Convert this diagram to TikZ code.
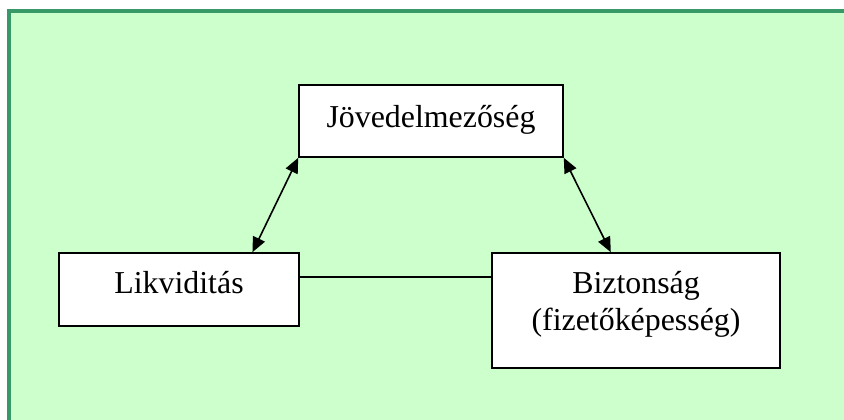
\documentclass[tikz,border=0pt]{standalone}
\usepackage{fontspec}
\setmainfont{Liberation Serif}
\usetikzlibrary{arrows.meta,calc}
\definecolor{bgfill}{RGB}{204,255,204}
\definecolor{frame}{RGB}{56,152,104}
\tikzset{
  box/.style={draw=black, line width=1.6bp, fill=white, inner sep=0pt},
  lbl/.style={anchor=base, inner sep=0pt, font=\fontsize{32}{37}\selectfont},
  conn/.style={line width=1.6bp, black},
  dbl/.style={conn, {Triangle[length=15bp,width=13bp]}-{Triangle[length=15bp,width=13bp]}, shorten <=0pt, shorten >=0pt}
}
\begin{document}
\begin{tikzpicture}[x=1bp,y=-1bp]
\useasboundingbox (0,0) rectangle (844,419);
\clip (0,0) rectangle (844,419);
\fill[white] (0,0) rectangle (844,419);
\draw[fill=bgfill, draw=frame, line width=4bp] (9,11) rectangle (860,440);
% boxes
\node[box, minimum width=264bp, minimum height=72bp] (top) at (431,121) {};
\node[box, minimum width=240bp, minimum height=73bp] (left) at (179,289.5) {};
\node[box, minimum width=288bp, minimum height=115bp] (right) at (636,310.5) {};
% labels
\node[lbl] (ttop) at (431,127) {Jövedelmezőség};
\node[lbl] (tleft) at (179,293) {Likviditás};
\node[lbl] (tright1) at (636,293) {Biztonság};
\node[lbl] (tright2) at (636,330) {(fizetőképesség)};
% connectors
\draw[conn] (left.east |- 0,277) -- (right.west |- 0,277);
\coordinate (la) at ($(left.north west)!0.804!(left.north east)$);
\draw[dbl] (top.south west) -- (la);
\coordinate (ra) at ($(right.north west)!0.413!(right.north east)$);
\draw[dbl] (top.south east) -- (ra);
\end{tikzpicture}
\end{document}
